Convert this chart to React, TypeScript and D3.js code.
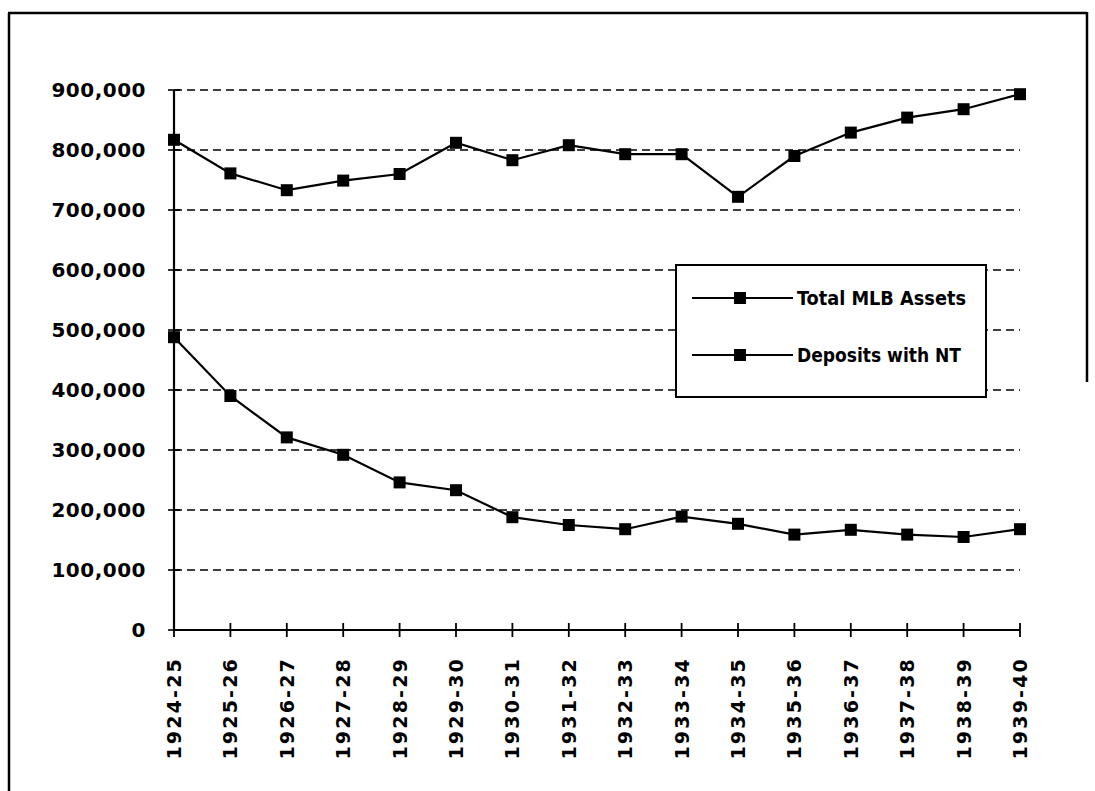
import React from "react";
import * as d3 from "d3";

const categories = ["1924-25","1925-26","1926-27","1927-28","1928-29","1929-30","1930-31","1931-32","1932-33","1933-34","1934-35","1935-36","1936-37","1937-38","1938-39","1939-40"];
const totalMLBAssets = [817000,761000,733000,749000,760000,812000,783000,808000,793000,793000,722000,790000,829000,854000,868000,893000];
const depositsWithNT = [488000,390000,321000,292000,246000,233000,188000,175000,168000,189000,177000,159000,167000,159000,155000,168000];
const yTicks = [0,100000,200000,300000,400000,500000,600000,700000,800000,900000];
const seriesNames = ["Total MLB Assets","Deposits with NT"];

const W = 1095, H = 791;

export default function App() {
  const x = d3.scalePoint<string>().domain(categories).range([174, 1020]);
  const y = d3.scaleLinear().domain([0, 900000]).range([630, 90]);
  const fmt = d3.format(",");
  const line = d3.line<number>().x((_, i) => x(categories[i]) as number).y(d => y(d));
  const series = [totalMLBAssets, depositsWithNT];
  const x0 = x(categories[0]) as number;
  const x1 = x(categories[categories.length - 1]) as number;
  const ms = 12;

  return (
    <svg width={W} height={H} style={{ position: "absolute", left: 0, top: 0, background: "#fff" }}>
      <rect x={0} y={0} width={W} height={H} fill="#fff" />
      {/* frame */}
      <line x1={9} y1={13} x2={9} y2={791} stroke="#000" strokeWidth={2.5} />
      <line x1={8} y1={13} x2={1087} y2={13} stroke="#000" strokeWidth={2.5} />
      <line x1={1087} y1={12} x2={1087} y2={382} stroke="#000" strokeWidth={2.5} />

      {/* gridlines */}
      {yTicks.filter(t => t > 0).map(t => (
        <line key={"g" + t} x1={x0} x2={x1} y1={y(t)} y2={y(t)} stroke="#000" strokeWidth={1.6} strokeDasharray="8,5" />
      ))}

      {/* y axis */}
      <line x1={x0} x2={x0} y1={y(0)} y2={y(900000)} stroke="#000" strokeWidth={2.2} />
      {yTicks.map(t => (
        <g key={"yt" + t}>
          <line x1={x0 - 6} x2={x0 + 6} y1={y(t)} y2={y(t)} stroke="#000" strokeWidth={1.6} />
          <text x={146} y={y(t)} dy="0.36em" textAnchor="end" fontFamily="DejaVu Sans, sans-serif" fontWeight="bold" fontSize={20} letterSpacing={0.5} fill="#000">{fmt(t)}</text>
        </g>
      ))}

      {/* x axis */}
      <line x1={x0} x2={x1} y1={y(0)} y2={y(0)} stroke="#000" strokeWidth={1.8} />
      {categories.map(c => (
        <g key={"xt" + c}>
          <line x1={x(c)} x2={x(c)} y1={y(0) - 7} y2={y(0) + 7} stroke="#000" strokeWidth={1.8} />
          <text transform={`translate(${(x(c) as number) + 7},${657}) rotate(-90)`} textAnchor="end" fontFamily="DejaVu Sans, sans-serif" fontWeight="bold" fontSize={19} letterSpacing={2.2} fill="#000">{c}</text>
        </g>
      ))}

      {/* series */}
      {series.map((s, si) => (
        <g key={"s" + si}>
          <path d={line(s) || ""} fill="none" stroke="#000" strokeWidth={2.2} />
          {s.map((v, i) => (
            <rect key={i} x={(x(categories[i]) as number) - ms / 2} y={y(v) - ms / 2} width={ms} height={ms} fill="#000" />
          ))}
        </g>
      ))}

      {/* legend */}
      <rect x={676} y={265} width={310} height={132} fill="#fff" stroke="#000" strokeWidth={2} />
      {seriesNames.map((n, i) => {
        const ly = 298 + i * 57;
        return (
          <g key={"l" + i}>
            <line x1={692} x2={793} y1={ly} y2={ly} stroke="#000" strokeWidth={2} />
            <rect x={740 - ms / 2} y={ly - ms / 2} width={ms} height={ms} fill="#000" />
            <text x={797} y={ly} dy="0.36em" fontFamily="DejaVu Sans Condensed, Liberation Sans Narrow, sans-serif" fontWeight="bold" fontSize={19} textLength={i === 0 ? 169 : 164} lengthAdjust="spacingAndGlyphs" fill="#000">{n}</text>
          </g>
        );
      })}
    </svg>
  );
}
